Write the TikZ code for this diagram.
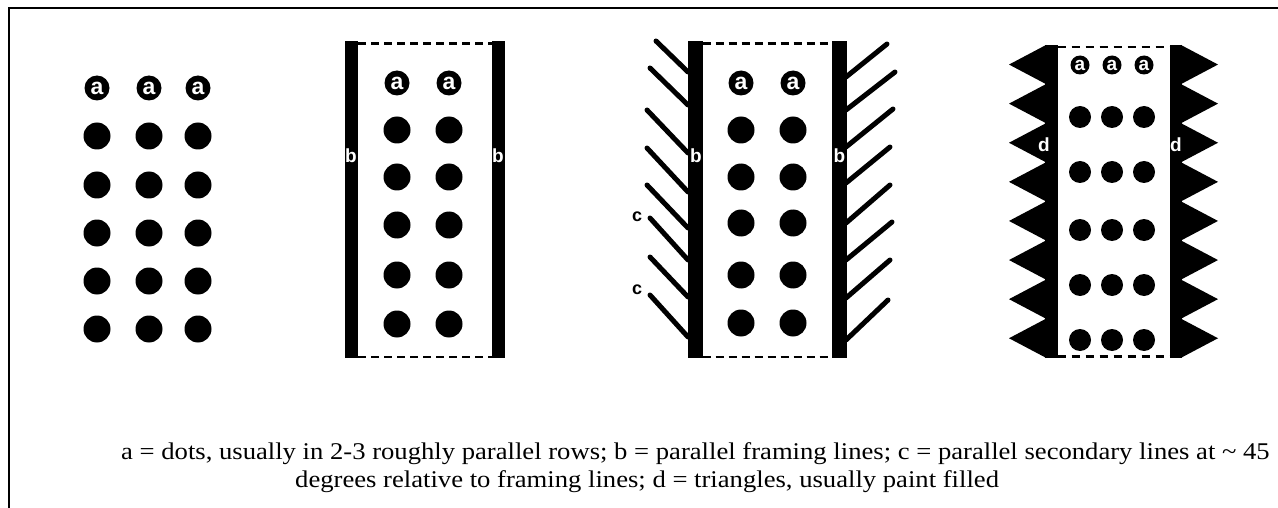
\documentclass[tikz,border=0pt]{standalone}
\usepackage{graphicx}
\usepackage{fontspec}
\setmainfont{Liberation Serif}
\newfontfamily\lblfont{Liberation Sans}
\begin{document}
\begin{tikzpicture}[x=1pt,y=-1pt,
  dot/.style={circle,fill=black,inner sep=0pt,minimum size=27pt},
  sdot/.style={circle,fill=black,inner sep=0pt,minimum size=22pt},
  adot/.style={circle,fill=black,inner sep=0pt,minimum size=25pt,text=white,font=\lblfont\bfseries\fontsize{23}{23}\selectfont},
  sadot/.style={circle,fill=black,inner sep=0pt,minimum size=19pt,text=white,font=\lblfont\bfseries\fontsize{19}{19}\selectfont},
  bar/.style={fill=black},
  dashline/.style={line width=2.5pt,dash pattern=on 8pt off 5pt},
  hatch/.style={line width=5pt,line cap=round},
  wlabel/.style={text=white,inner sep=0pt,font=\lblfont\bfseries\fontsize{19}{19}\selectfont},
  blabel/.style={text=black,inner sep=0pt,font=\lblfont\bfseries\fontsize{18}{18}\selectfont},
  caption/.style={inner sep=0pt,anchor=base west,font=\fontsize{24}{27}\selectfont}]
\useasboundingbox (0,0) rectangle (1278,508);
\fill[white] (0,0) rectangle (1278,508);
% frame
\draw[line width=2pt] (9,508) -- (9,7.7) -- (1278,7.7);

% ---------- panel 1 ----------
\foreach \x [count=\i] in {97,149,198}{
  \node[adot] (p1a\i) at (\x,88) {a};
  \foreach \y [count=\j] in {136,185,233,281,329}{
    \node[dot] (p1d\i\j) at (\x,\y) {};
  }
}

% ---------- panel 2 ----------
\fill[bar] (345,41) rectangle (358,358);
\fill[bar] (492,41) rectangle (505,358);
\draw[dashline] (358,43.5) -- (492,43.5);
\draw[dashline] (358,357) -- (492,357);
\foreach \x [count=\i] in {397,449}{
  \node[adot] (p2a\i) at (\x,83) {a};
  \foreach \y [count=\j] in {130,177,225,275,324}{
    \node[dot] (p2d\i\j) at (\x,\y) {};
  }
}
\node[wlabel] (p2bl) at (351,156) {b};
\node[wlabel] (p2br) at (498,156) {b};

% ---------- panel 3 ----------
\foreach \a/\b/\c/\d in {656/41/688/72, 650/68/688/105, 647/110/688/153, 647/148/688/192,
                         647/185/688/228, 650/218/688/260, 650/257/688/297, 650/295/688/337}{
  \draw[hatch] (\a,\b) -- (\c,\d);
}
\foreach \a/\b/\c/\d in {846/77/887/44, 846/110/895/72, 846/147/893/109, 846/183/890/147,
                         846/223/890/185, 846/260/892/222, 846/298/890/260, 846/340/888/300}{
  \draw[hatch] (\a,\b) -- (\c,\d);
}
\fill[bar] (688,41) rectangle (702.5,358);
\fill[bar] (832,41) rectangle (846.5,358);
\draw[dashline] (702.5,43.5) -- (832,43.5);
\draw[dashline] (702.5,357) -- (832,357);
\foreach \x [count=\i] in {741,793}{
  \node[adot] (p3a\i) at (\x,83) {a};
  \foreach \y [count=\j] in {130,177,223,275,323}{
    \node[dot] (p3d\i\j) at (\x,\y) {};
  }
}
\node[wlabel] (p3bl) at (696,156) {b};
\node[wlabel] (p3br) at (839.5,156) {b};
\node[blabel] (p3c1) at (637,217) {c};
\node[blabel] (p3c2) at (637,290) {c};

% ---------- panel 4 ----------
\foreach \i in {0,...,7}{
  \pgfmathsetmacro{\ta}{45+39.1*\i}
  \pgfmathsetmacro{\tb}{45+39.1*(\i+1)}
  \pgfmathsetmacro{\tm}{45+39.1*(\i+0.5)}
  \fill (1046,\ta) -- (1009,\tm) -- (1046,\tb) -- cycle;
  \fill (1181,\ta) -- (1218,\tm) -- (1181,\tb) -- cycle;
}
\fill[bar] (1045,45) rectangle (1057.5,358);
\fill[bar] (1169.5,45) rectangle (1182,358);
\draw[dashline,dash pattern=on 8pt off 6pt] (1057.5,47) -- (1169.5,47);
\draw[dashline,dash pattern=on 8pt off 6pt] (1057.5,356.5) -- (1169.5,356.5);
\foreach \x [count=\i] in {1080,1112,1144}{
  \node[sadot] (p4a\i) at (\x,65) {a};
  \foreach \y [count=\j] in {117,172,230,285,340}{
    \node[sdot] (p4d\i\j) at (\x,\y) {};
  }
}
\node[wlabel] (p4dl) at (1044,145) {d};
\node[wlabel] (p4dr) at (1176,145) {d};

% ---------- caption ----------
\node[caption] (cap1) at (121,459) {\scalebox{1.11}[1]{a = dots, usually in 2-3 roughly parallel rows; b = parallel framing lines; c = parallel secondary lines at \textasciitilde{} 45}};
\node[caption] (cap2) at (295,487) {\scalebox{1.11}[1]{degrees relative to framing lines; d = triangles, usually paint filled}};
\end{tikzpicture}
\end{document}
